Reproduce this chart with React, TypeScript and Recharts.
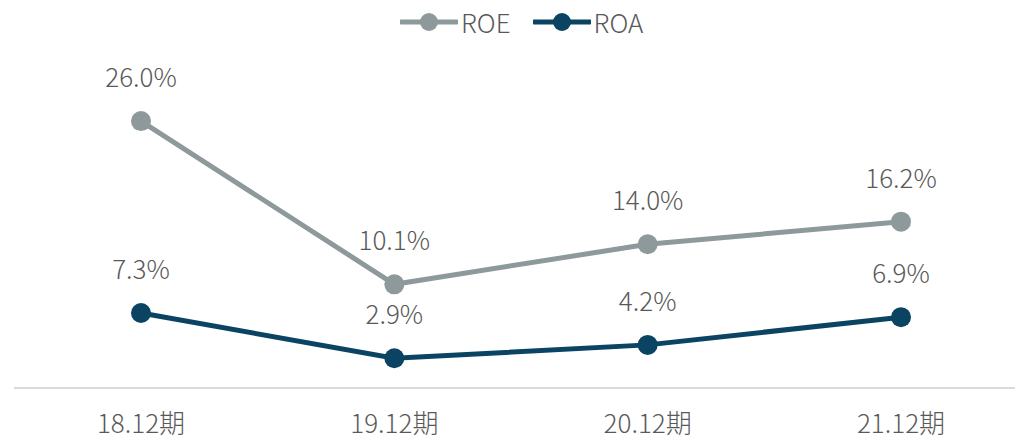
import React from 'react';
import { LineChart, Line, XAxis, YAxis, LabelList } from 'recharts';

const periods = ['18.12期', '19.12期', '20.12期', '21.12期'];
const roe = [26.0, 10.1, 14.0, 16.2];
const roa = [7.3, 2.9, 4.2, 6.9];

const ROE_COLOR = '#8E999C';
const ROA_COLOR = '#0B4462';
const TEXT_COLOR = '#595959';
const FONT = '"Noto Sans CJK JP", "Noto Sans", sans-serif';

const chartData = periods.map((p, i) => ({ period: p, roe: roe[i], roa: roa[i] }));

const fmt = (v: any) => `${Number(v).toFixed(1)}%`;

const LegendItem = ({ color, label }: { color: string; label: string }) => (
  <div style={{ display: 'flex', alignItems: 'center', marginRight: 22 }}>
    <svg width={58} height={20} style={{ marginRight: 3 }}>
      <line x1={1} y1={10} x2={57} y2={10} stroke={color} strokeWidth={5} strokeLinecap="round" />
      <circle cx={29} cy={10} r={9} fill={color} />
    </svg>
    <span style={{ fontSize: 26, color: TEXT_COLOR, fontWeight: 300 }}>{label}</span>
  </div>
);

const App: React.FC = () => {
  return (
    <div style={{ position: 'absolute', left: 0, top: 0, width: 1015, height: 439, background: '#fff', fontFamily: FONT }}>
      <div style={{ position: 'absolute', left: 400, top: 5, display: 'flex', lineHeight: '34px' }}>
        <LegendItem color={ROE_COLOR} label="ROE" />
        <LegendItem color={ROA_COLOR} label="ROA" />
      </div>
      <LineChart
        width={1015}
        height={439}
        data={chartData}
        margin={{ top: 80, right: 0, bottom: 0, left: 14 }}
      >
        <XAxis
          dataKey="period"
          height={51}
          padding={{ left: 127, right: 114 }}
          axisLine={{ stroke: '#D9D9D9', strokeWidth: 2 }}
          tickLine={false}
          tickMargin={21}
          tick={{ fill: TEXT_COLOR, fontSize: 26, fontFamily: FONT, fontWeight: 300 }}
          interval={0}
        />
        <YAxis hide domain={[0, 30]} />
        <Line
          dataKey="roe"
          stroke={ROE_COLOR}
          strokeWidth={5}
          dot={{ r: 10, fill: ROE_COLOR, stroke: ROE_COLOR, strokeWidth: 0 }}
          isAnimationActive={false}
        >
          <LabelList
            dataKey="roe"
            position="top"
            offset={34}
            formatter={fmt}
            style={{ fill: TEXT_COLOR, fontSize: 26, fontFamily: FONT, fontWeight: 300 }}
          />
        </Line>
        <Line
          dataKey="roa"
          stroke={ROA_COLOR}
          strokeWidth={5}
          dot={{ r: 10, fill: ROA_COLOR, stroke: ROA_COLOR, strokeWidth: 0 }}
          isAnimationActive={false}
        >
          <LabelList
            dataKey="roa"
            position="top"
            offset={34}
            formatter={fmt}
            style={{ fill: TEXT_COLOR, fontSize: 26, fontFamily: FONT, fontWeight: 300 }}
          />
        </Line>
      </LineChart>
    </div>
  );
};

export default App;
